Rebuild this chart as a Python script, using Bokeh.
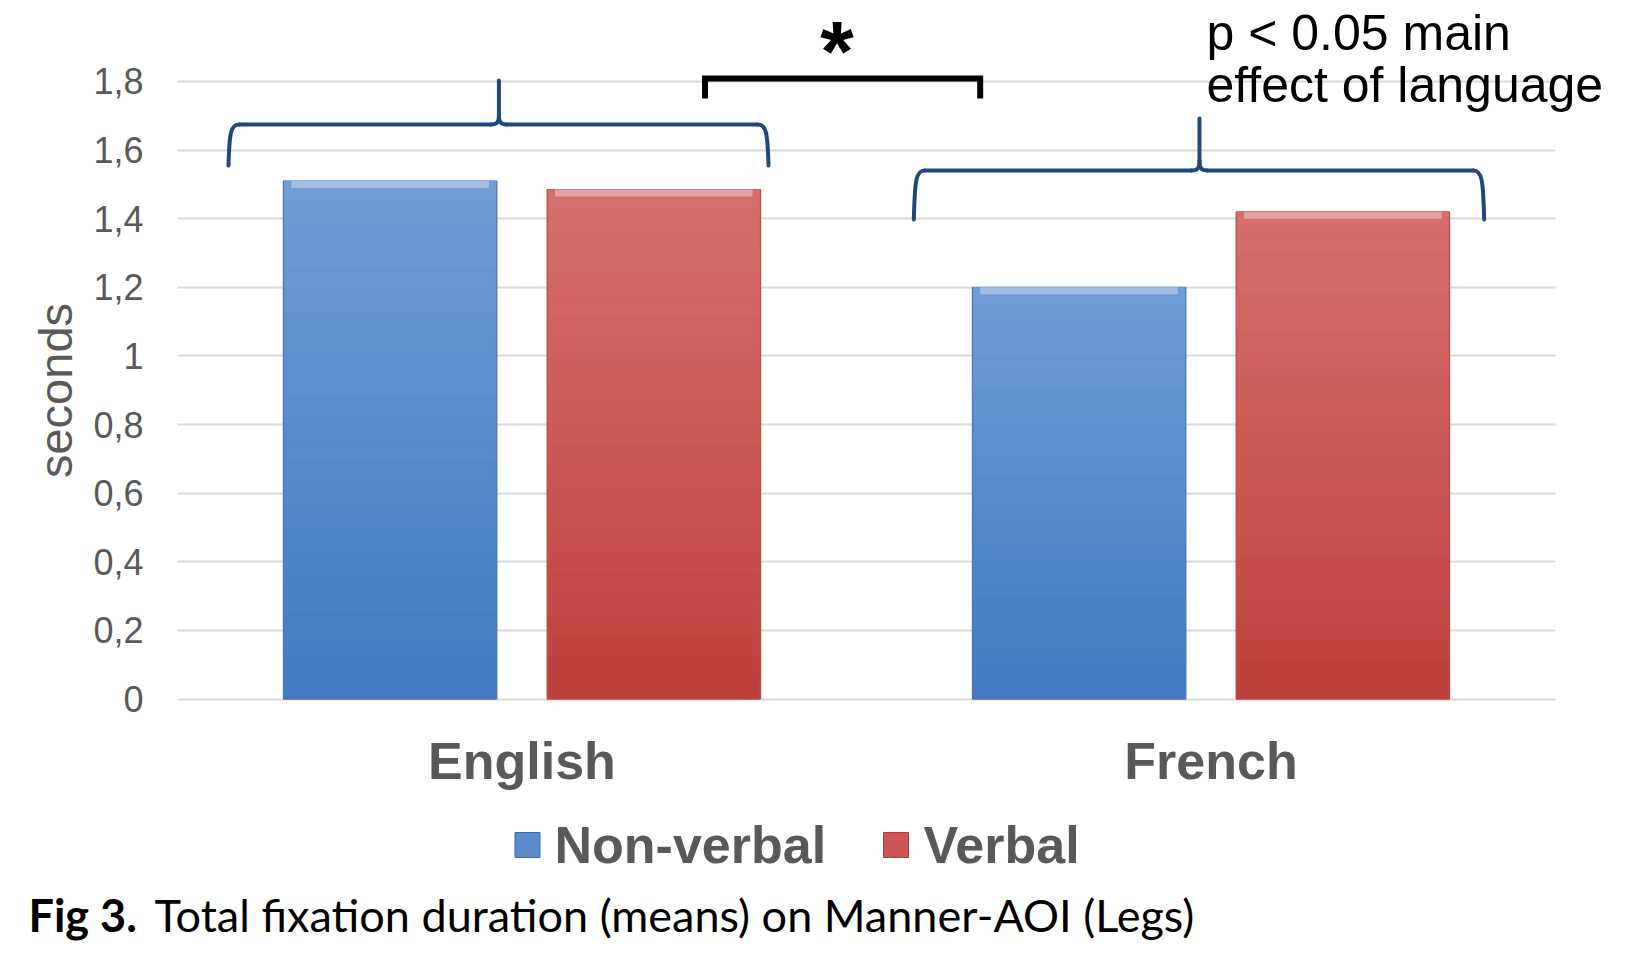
from bokeh.plotting import figure
from bokeh.models import (Range1d, FixedTicker, ColumnDataSource, LinearAxis, Grid,
                          Label)
from bokeh.embed import file_html
from bokeh.resources import INLINE

# ---------------- data ----------------
languages = ["English", "French"]
series_names = ["Non-verbal", "Verbal"]
non_verbal = [1.51, 1.20]
verbal = [1.485, 1.42]
y_ticks = [0, 0.2, 0.4, 0.6, 0.8, 1, 1.2, 1.4, 1.6, 1.8]
y_tick_labels = ["0", "0,2", "0,4", "0,6", "0,8", "1", "1,2", "1,4", "1,6", "1,8"]
y_label = "seconds"
caption_bold = "Fig 3."
caption_text = "Total fixation duration (means) on Manner-AOI (Legs)"
note_lines = ["p < 0.05 main", "effect of language"]
star_text = "*"

# ---------------- style ----------------
FONT = "Liberation Sans"
CAP_FONT = "Lato"
GREY = "#595959"
BRACE = "#1F497D"
OFF = 0.1914
W = 0.31
PX_X = 689.0        # pixels per x unit
PX_Y = 343.1        # pixels per y unit
UX = 1 / PX_X
UY = 1 / PX_Y
CW, CH = 1617, 945
X0_PX, Y0_PX = 177.0, 698.57   # where the data origin sits on the canvas

def dx(px):  # canvas x pixel -> data x
    return (px - X0_PX) / PX_X

def dy(py):  # canvas y pixel -> data y
    return (Y0_PX - py) / PX_Y

BLUE_BOT, BLUE_TOP = (66, 121, 192), (113, 157, 215)
RED_BOT, RED_TOP = (191, 63, 60), (215, 111, 108)

cat_pos = [i + 0.5 for i in range(len(languages))]

p = figure(width=CW, height=CH, min_border=0,
           x_range=Range1d(dx(0), dx(CW)), y_range=Range1d(dy(CH), dy(0)),
           x_axis_location=None, y_axis_location=None,
           output_backend="svg", toolbar_location=None)
p.outline_line_color = None
p.background_fill_color = "white"
for g in list(p.grid):
    g.visible = False

def mix(c0, c1, t):
    return "#%02x%02x%02x" % tuple(int(round(a + (b - a) * t)) for a, b in zip(c0, c1))

# ---------------- grid ----------------
yticker = FixedTicker(ticks=y_ticks)
grid = Grid(dimension=1, ticker=yticker, grid_line_color="#d9d9d9",
            grid_line_width=2)
try:
    grid.cross_bounds = (0, len(languages))
    p.add_layout(grid)
except AttributeError:
    p.segment(x0=[0] * len(y_ticks), x1=[len(languages)] * len(y_ticks),
              y0=y_ticks, y1=y_ticks, line_color="#d9d9d9", line_width=2)

# ---------------- bars ----------------
series = [(non_verbal, -OFF, BLUE_BOT, BLUE_TOP, "#3d6aa5"),
          (verbal, OFF, RED_BOT, RED_TOP, "#a8403d")]

for vals, off, cb, ct, edge in series:
    xs = [c + off for c in cat_pos]
    p.vbar(x=xs, top=vals, width=W, fill_color=mix(cb, ct, 0.5),
           line_color=edge, line_width=1)
    # vertical shading bands derived from the series values
    N = 24
    bx, bb, bt, bc = [], [], [], []
    for x, val in zip(xs, vals):
        for k in range(N):
            bx.append(x)
            bb.append(val * k / N)
            bt.append(val * (k + 1) / N)
            bc.append(mix(cb, ct, (k + 0.5) / N))
    p.vbar(x=bx, bottom=bb, top=bt, width=W - 2 * UX, fill_color=bc,
           line_color=bc, line_width=0.5)
    # top bevel highlight
    p.vbar(x=xs, top=vals, bottom=[v - 7 * UY for v in vals], width=W - 16 * UX,
           fill_color=mix(ct, (255, 255, 255), 0.35), line_color=None)

# ---------------- axes (drawn at the data origin) ----------------
yaxis = LinearAxis(fixed_location=0, ticker=yticker, bounds=(y_ticks[0], y_ticks[-1]),
                   major_label_overrides=dict(zip(y_ticks, y_tick_labels)),
                   major_label_text_font=FONT, major_label_text_font_size="36px",
                   major_label_text_color=GREY, major_label_standoff=28,
                   axis_line_color=None, major_tick_line_color=None,
                   minor_tick_line_color=None,
                   axis_label=y_label, axis_label_text_font=FONT,
                   axis_label_text_font_style="normal",
                   axis_label_text_font_size="47px", axis_label_text_color=GREY,
                   axis_label_standoff=8)
p.add_layout(yaxis, "left")

xaxis = LinearAxis(fixed_location=0, ticker=FixedTicker(ticks=cat_pos),
                   major_label_overrides=dict(zip(cat_pos, languages)),
                   major_label_text_font=FONT, major_label_text_font_style="bold",
                   major_label_text_font_size="52px", major_label_text_color=GREY,
                   major_label_standoff=27,
                   axis_line_color=None, major_tick_line_color=None,
                   minor_tick_line_color=None)
p.add_layout(xaxis, "below")

# ---------------- braces ----------------
def brace(xl, xr, xc, ye, yh, yp):
    bz = dict(x0=[], y0=[], x1=[], y1=[], cx0=[], cy0=[], cx1=[], cy1=[])
    def add(a, c0, c1, b):
        bz["x0"].append(a[0]); bz["y0"].append(a[1])
        bz["cx0"].append(c0[0]); bz["cy0"].append(c0[1])
        bz["cx1"].append(c1[0]); bz["cy1"].append(c1[1])
        bz["x1"].append(b[0]); bz["y1"].append(b[1])
    for s, xe in [(1, xl), (-1, xr)]:
        add((xe, ye), (xe + s * 1 * UX, ye + 0.8 * (yh - ye)),
            (xe + s * 2 * UX, yh), (xe + s * 11 * UX, yh))
        add((xc - s * 8 * UX, yh), (xc - s * 2 * UX, yh),
            (xc, yh + 2 * UY), (xc, yh + 10 * UY))
    p.bezier(source=ColumnDataSource(bz), x0="x0", y0="y0", x1="x1", y1="y1",
             cx0="cx0", cy0="cy0", cx1="cx1", cy1="cy1",
             line_color=BRACE, line_width=4, line_cap="round")
    p.segment(x0=[xl + 11 * UX, xc + 8 * UX, xc], y0=[yh, yh, yh + 10 * UY],
              x1=[xc - 8 * UX, xr - 11 * UX, xc], y1=[yh, yh, yp],
              line_color=BRACE, line_width=4, line_cap="round")

brace(0.074, 0.8578, 0.4665, 1.5551, 1.6747, 1.8029)
brace(1.0687, 1.8965, 1.4833, 1.3977, 1.5406, 1.6921)

# significance bracket
p.line(x=[0.7656, 0.7656, 1.165, 1.165], y=[1.7504, 1.8087, 1.8087, 1.7504],
       line_color="black", line_width=6, line_join="miter")

# ---------------- legend swatches ----------------
sw_x = [dx(527), dx(895.5)]
sw_y = dy(844.5)
for (vals, off, cb, ct, edge), sx in zip(series, sw_x):
    p.rect(x=[sx], y=[sw_y], width=25, height=25, width_units="screen",
           height_units="screen", fill_color=mix(cb, ct, 0.5), line_color=edge,
           line_width=1)

# ---------------- texts (each line box kept fully inside the canvas) ----------------
def lab(x, y, text, size, color="black", font=FONT, style="normal", align="left"):
    p.add_layout(Label(x=x, y=y, text=text, text_font=font,
                       text_font_style=style, text_font_size=size,
                       text_color=color, text_align=align,
                       text_baseline="alphabetic"))

lab(dx(836.5), dy(50), star_text, "86px", style="bold", align="center")
lab(dx(1206), dy(32), note_lines[0], "50px")
lab(dx(1206), dy(84), note_lines[1], "50px")

lab(dx(554), dy(844), series_names[0], "52px", color=GREY, style="bold")
lab(dx(923), dy(844), series_names[1], "52px", color=GREY, style="bold")

lab(dx(28), dy(914), caption_bold, "45px", font=CAP_FONT, style="bold")
lab(dx(154), dy(914), caption_text, "45px", font=CAP_FONT)

open("out.html", "w").write(file_html(p, INLINE))
